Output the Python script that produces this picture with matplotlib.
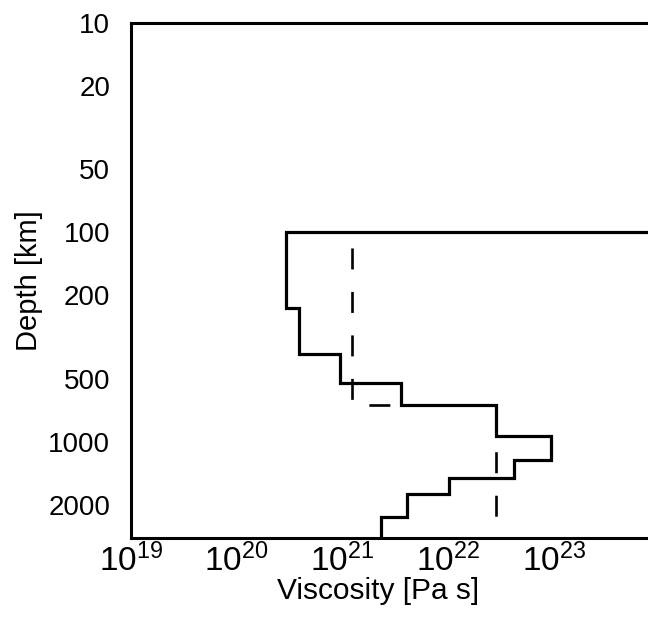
import numpy as np
import matplotlib
matplotlib.use("Agg")
import matplotlib.pyplot as plt

plt.rcParams["font.family"] = ["Liberation Sans", "DejaVu Sans"]
plt.rcParams["mathtext.fontset"] = "custom"
plt.rcParams["mathtext.rm"] = "Liberation Sans"
plt.rcParams["lines.scale_dashes"] = False

# Solid model: layer tops (km) and viscosity (Pa s); first layer = lithosphere
solid_tops = [10, 100, 230, 380, 525, 670, 945, 1220, 1490, 1780, 2300]
solid_visc = [1e30, 2.9e20, 3.85e20, 9.4e20, 3.6e21, 2.8e22, 9.4e22, 4.15e22, 1.02e22, 4.1e21, 2.3e21]

# Dashed model: two-layer mantle below 100 km
dashed_tops = [100, 670]
dashed_visc = [1.22e21, 2.8e22]

cmb_depth = 2891

y_ticks = [10, 20, 50, 100, 200, 500, 1000, 2000]
x_ticks = [1e19, 1e20, 1e21, 1e22, 1e23]


def step_path(tops, visc, bottom):
    bots = list(tops[1:]) + [bottom]
    xs, ys = [], []
    for t, b, v in zip(tops, bots, visc):
        xs += [v, v]
        ys += [t, b]
    return xs, ys


fig = plt.figure(figsize=(6.48, 6.24), dpi=100)
ax = fig.add_axes([131 / 648, 1 - 538 / 624, 1 - 131 / 648 + 0.01, (538 - 23) / 624])

sx, sy = step_path(solid_tops, solid_visc, cmb_depth)
ax.plot(sx, sy, color="black", lw=2.3, solid_joinstyle="miter")

dx, dy = step_path(dashed_tops, dashed_visc, cmb_depth)
ax.plot(dx, dy, color="black", lw=1.9, linestyle=(19.8, (15.1, 16.2)), dash_capstyle="butt")

ax.set_xscale("log")
ax.set_yscale("log")
ax.set_xlim(1e19, 10 ** 23.95)
ax.set_ylim(cmb_depth, 10)

ax.set_xticks(x_ticks)
ax.set_yticks(y_ticks)
ax.set_yticklabels([str(t) for t in y_ticks])
ax.minorticks_off()
ax.tick_params(axis="both", length=0)
ax.tick_params(axis="y", pad=15, labelsize=20)
ax.tick_params(axis="x", pad=4, labelsize=24)

for side in ["left", "top", "bottom"]:
    ax.spines[side].set_linewidth(2.2)
ax.spines["right"].set_visible(False)

ax.set_xlabel("Viscosity [Pa s]", fontsize=21.5, labelpad=0)
ax.xaxis.set_label_coords(0.472, -0.076)
ax.set_ylabel("Depth [km]", fontsize=21, labelpad=4)

fig.savefig("out.png", dpi=100)
